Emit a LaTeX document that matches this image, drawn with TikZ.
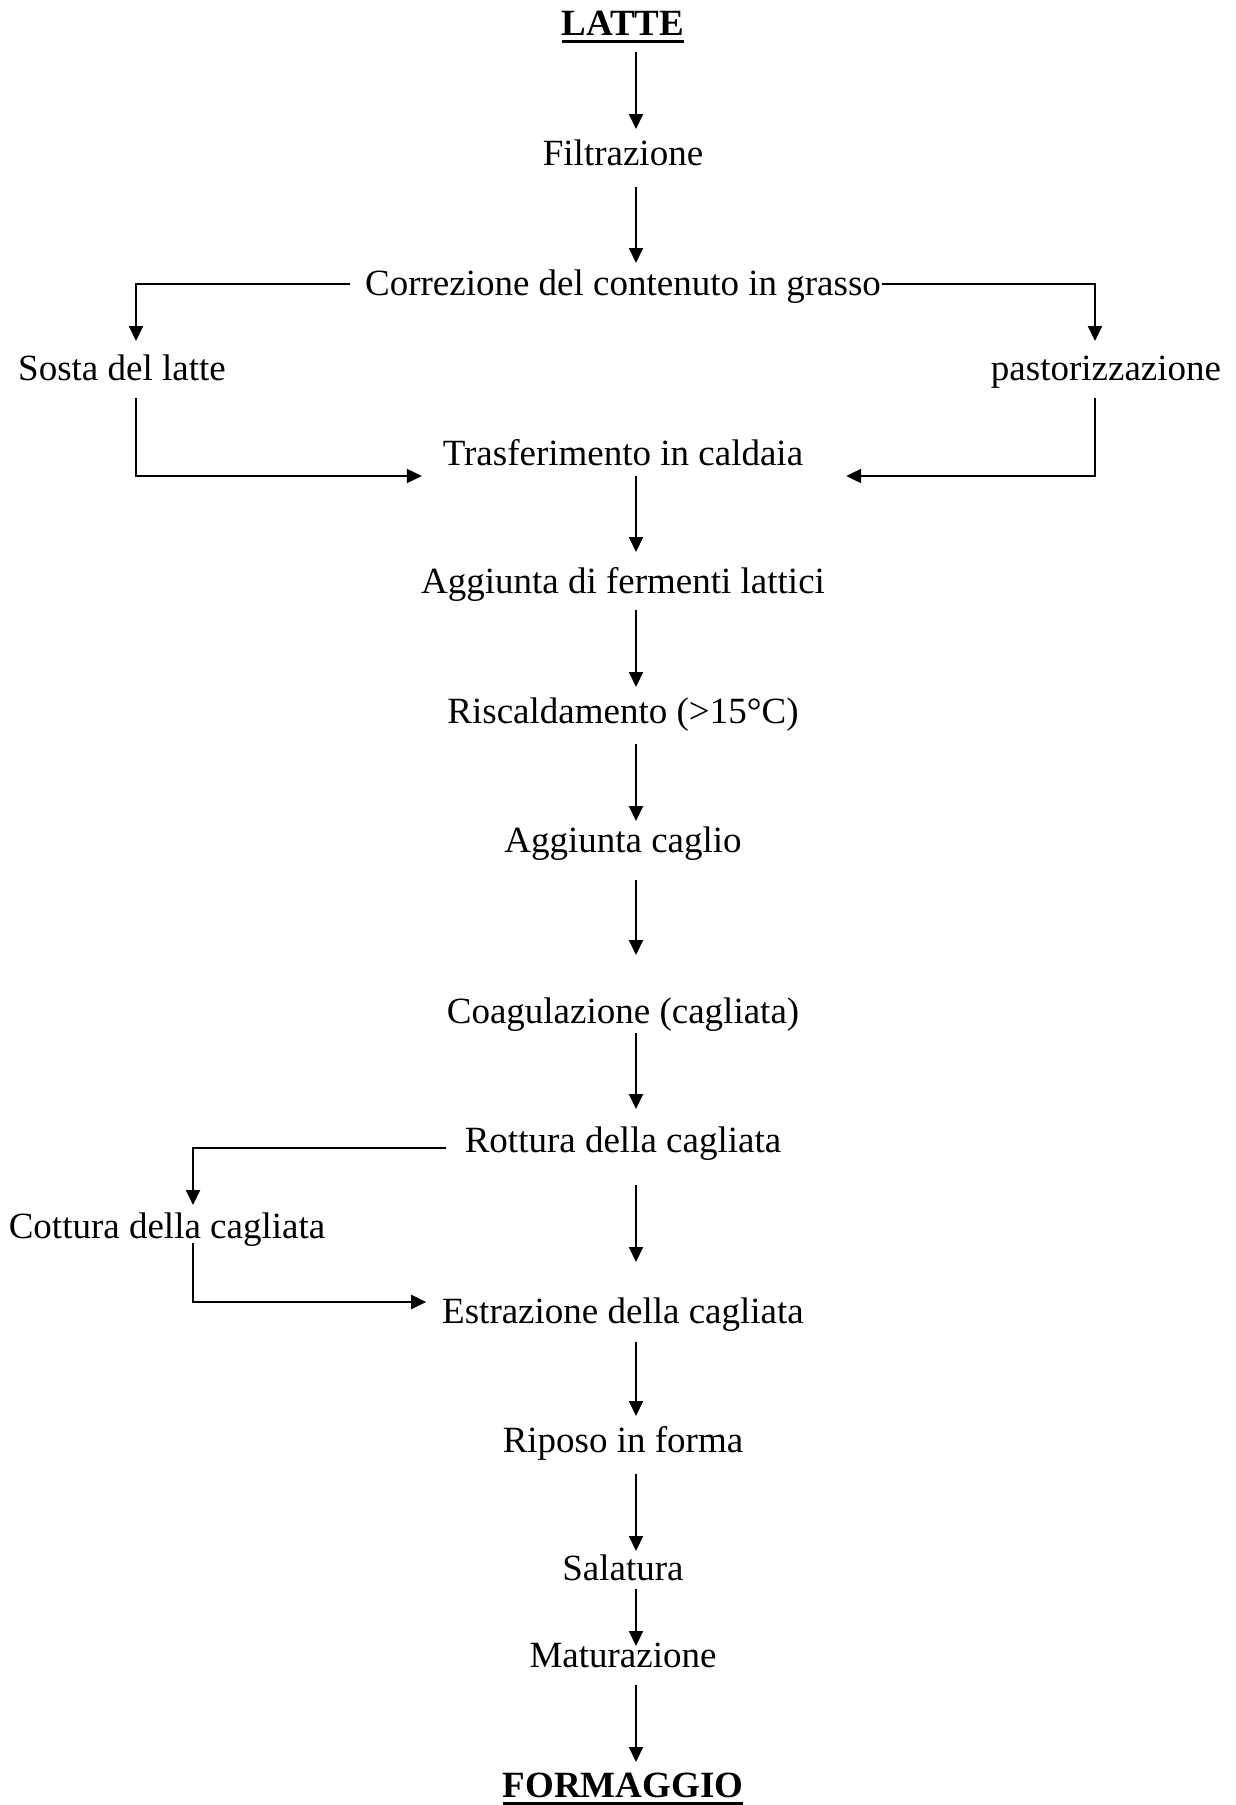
\documentclass[tikz,border=0pt]{standalone}
\usepackage{fontspec}
\setmainfont{Liberation Serif}
\usetikzlibrary{arrows.meta,calc}
\newcommand{\myul}[1]{\setbox0\hbox{#1}\rlap{\rule[-8pt]{\wd0}{3pt}}\box0}
\tikzset{
  lbl/.style={inner sep=0pt, outer sep=0pt, anchor=base, font=\fontsize{37}{44}\selectfont},
  arr/.style={line width=2pt, -{Triangle[length=15pt,width=14pt]}},
}
\begin{document}
\begin{tikzpicture}[x=1pt,y=-1pt]
\useasboundingbox (0,0) rectangle (1236,1805);
\coordinate (ax) at (636,0);
\node[lbl] (latte) at (623,35) {\myul{\textbf{LATTE}}};
\node[lbl] (filt) at (623,165) {Filtrazione};
\node[lbl] (corr) at (623,295) {Correzione del contenuto in grasso};
\node[lbl] (sosta) at (122,380) {Sosta del latte};
\node[lbl] (past) at (1106,380) {pastorizzazione};
\node[lbl] (trasf) at (623,465) {Trasferimento in caldaia};
\node[lbl] (aggf) at (623,593) {Aggiunta di fermenti lattici};
\node[lbl] (risc) at (623,723) {Riscaldamento (>15°C)};
\node[lbl] (aggc) at (623,852) {Aggiunta caglio};
\node[lbl] (coag) at (623,1023) {Coagulazione (cagliata)};
\node[lbl] (rott) at (623,1152) {Rottura della cagliata};
\node[lbl] (cott) at (167,1238) {Cottura della cagliata};
\node[lbl] (estr) at (623,1323) {Estrazione della cagliata};
\node[lbl] (rip) at (623,1452) {Riposo in forma};
\node[lbl] (sal) at (623,1580) {Salatura};
\node[lbl] (mat) at (623,1667) {Maturazione};
\node[lbl] (form) at (623,1797) {\myul{\textbf{FORMAGGIO}}};

\draw[arr] ($(latte.base -| ax)+(0,17)$) -- ($(filt.base -| ax)+(0,-36)$);
\draw[arr] ($(filt.base -| ax)+(0,22)$) -- ($(corr.base -| ax)+(0,-32)$);
\draw[arr] ($(corr.base west)+(-15,-11)$) -| ($(sosta.base)+(14,-39)$);
\draw[arr] ($(corr.base east)+(1,-11)$) -| ($(past.base)+(-11,-39)$);
\draw[arr] ($(sosta.base)+(14,18)$) |- ($(trasf.base west)+(-21,11)$);
\draw[arr] ($(past.base)+(-11,18)$) |- ($(trasf.base east)+(43,11)$);
\draw[arr] ($(trasf.base -| ax)+(0,11)$) -- ($(aggf.base -| ax)+(0,-41)$);
\draw[arr] ($(aggf.base -| ax)+(0,17)$) -- ($(risc.base -| ax)+(0,-36)$);
\draw[arr] ($(risc.base -| ax)+(0,21)$) -- ($(aggc.base -| ax)+(0,-31)$);
\draw[arr] ($(aggc.base -| ax)+(0,28)$) -- ($(coag.base -| ax)+(0,-68)$);
\draw[arr] ($(coag.base -| ax)+(0,10)$) -- ($(rott.base -| ax)+(0,-43)$);
\draw[arr] ($(rott.base west)+(-19,-4)$) -| ($(cott.base)+(26,-33)$);
\draw[arr] ($(rott.base -| ax)+(0,33)$) -- ($(estr.base -| ax)+(0,-61)$);
\draw[arr] ($(cott.base)+(26,5)$) |- ($(estr.base west)+(-16,-21)$);
\draw[arr] ($(estr.base -| ax)+(0,19)$) -- ($(rip.base -| ax)+(0,-36)$);
\draw[arr] ($(rip.base -| ax)+(0,22)$) -- ($(sal.base -| ax)+(0,-29)$);
\draw[arr] ($(sal.base -| ax)+(0,9)$) -- ($(mat.base -| ax)+(0,-21)$);
\draw[arr] ($(mat.base -| ax)+(0,18)$) -- ($(form.base -| ax)+(0,-35)$);
\end{tikzpicture}
\end{document}
